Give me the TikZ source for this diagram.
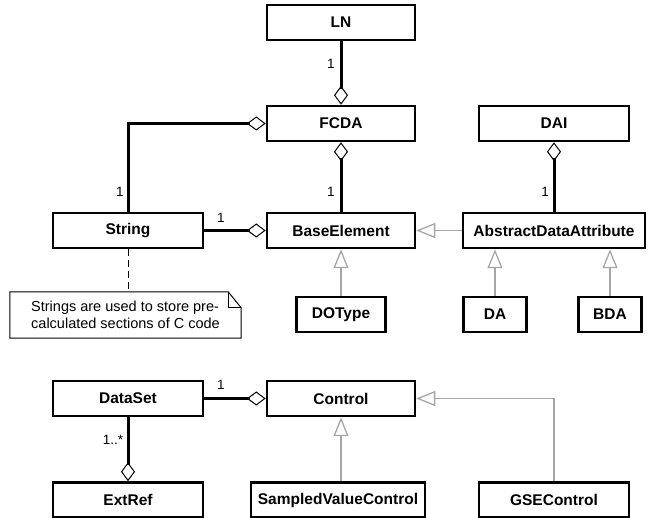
\documentclass[tikz,border=0pt]{standalone}
\usepackage{fontspec}
\setmainfont{Liberation Sans}
\usetikzlibrary{arrows.meta}

\tikzset{
	cls/.style={draw, line width=2.5pt, minimum width=148pt, minimum height=35pt, inner sep=0pt, font=\fontsize{15.5}{18}\selectfont\bfseries},
	agg/.style={line width=3pt, -{Diamond[open, length=19pt, width=14pt, line width=1pt]}},
	gen/.style={draw=gray!70, line width=1.3pt, -{Triangle[open, length=19pt, width=15pt, line width=1.3pt]}},
	mult/.style={font=\fontsize{13.5}{16}\selectfont, inner sep=0pt},
}

\begin{document}
\begin{tikzpicture}[x=1pt, y=-1pt]
	\useasboundingbox (0,0) rectangle (654,518);
	\node [cls] at (341,22.5) (LN) {LN};
	\node [cls] at (341,123.5) (FCDA) {FCDA};
	\node [cls, minimum width=150pt] at (554,123.5) (DAI) {DAI};
	\node [cls, minimum width=150pt] at (128,230.5) (String) {String};
	\node [cls] at (341,230.5) (BE) {BaseElement};
	\node [cls, minimum width=182pt] at (554,230.5) (ADA) {AbstractDataAttribute};
	\node [cls, minimum width=89pt] at (341,314.5) (DOType) {DOType};
	\node [cls, minimum width=63pt] at (495,314.5) (DA) {DA};
	\node [cls, minimum width=63pt] at (610,314.5) (BDA) {BDA};
	\node [cls, minimum width=150pt] at (128,398.5) (DataSet) {DataSet};
	\node [cls] at (341,398.5) (Control) {Control};
	\node [cls, minimum width=150pt] at (128,500) (ExtRef) {ExtRef};
	\node [cls, minimum width=174pt] at (338,500) (SVC) {SampledValueControl};
	\node [cls, minimum width=150pt] at (554,500) (GSE) {GSEControl};
	\node [minimum width=231pt, minimum height=46pt, inner sep=0pt, align=left, font=\fontsize{14.5}{17}\selectfont] at (125.5,315) (note) {Strings are used to store pre-\\calculated sections of C code};

	\draw [line width=1pt] (note.north west) -- ([xshift=-13pt]note.north east) -- ([yshift=-16pt]note.north east) -- (note.south east) -- (note.south west) -- cycle;
	\draw [line width=1pt] ([xshift=-13pt]note.north east) |- ([yshift=-16pt]note.north east);
	\draw [line width=1pt, dash pattern=on 7pt off 4pt] (String.south) -- (String.south |- note.north);

	\draw [agg] (LN) -- (FCDA);
	\draw [agg] (BE) -- (FCDA);
	\draw [agg] (String.north) |- (FCDA.west);
	\draw [agg] (String) -- (BE);
	\draw [agg] (ADA) -- (DAI);
	\draw [agg] (DataSet) -- (Control);
	\draw [agg] (DataSet) -- (ExtRef);

	\draw [gen] (ADA) -- (BE);
	\draw [gen] (DOType) -- (BE);
	\draw [gen] (DA) -- (DA |- ADA.south);
	\draw [gen] (BDA) -- (BDA |- ADA.south);
	\draw [gen] (Control.south |- SVC.north) -- (Control.south);
	\draw [gen] (GSE.north) |- (Control.east);

	\node [mult] at (331,64) (m1) {1};
	\node [mult] at (120,192) (m2) {1};
	\node [mult] at (331,192) (m3) {1};
	\node [mult] at (545,192) (m4) {1};
	\node [mult] at (221,218) (m5) {1};
	\node [mult] at (221,385) (m6) {1};
	\node [mult] at (113,440) (m7) {1..*};
\end{tikzpicture}
\end{document}
